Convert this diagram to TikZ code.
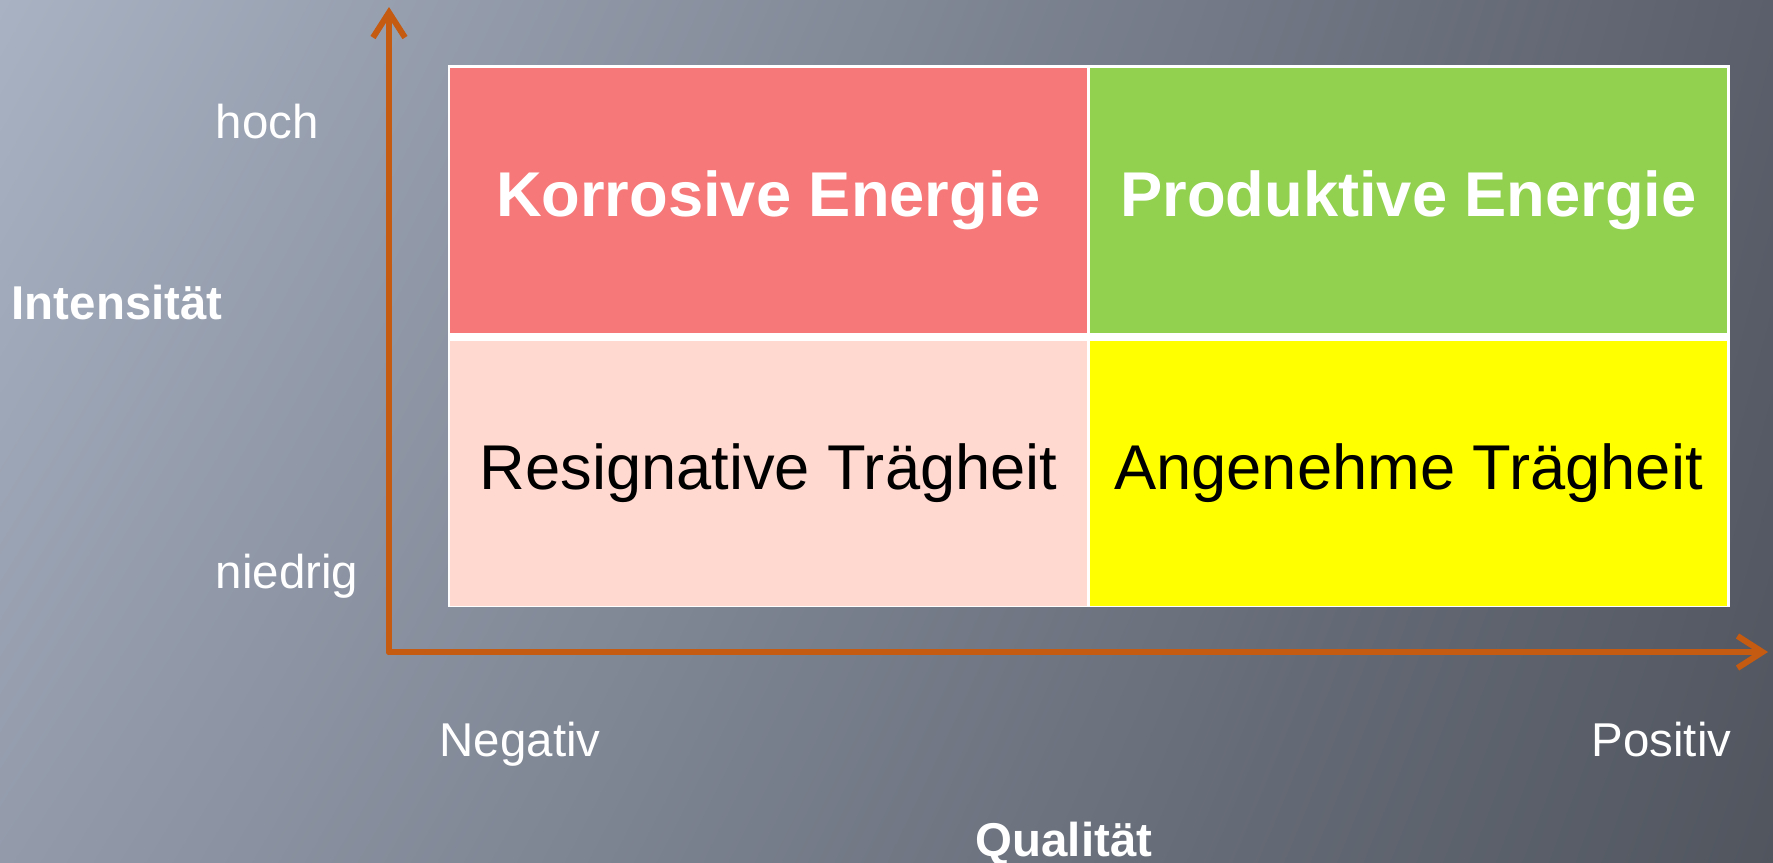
\documentclass[tikz,border=0pt]{standalone}
\usepackage{fontspec}
\setmainfont{Liberation Sans}
\usetikzlibrary{positioning,arrows.meta,shadings}

\definecolor{bgtl}{HTML}{A8B2C2}
\definecolor{bgtr}{HTML}{5B5F6B}
\definecolor{bgbl}{HTML}{939BAB}
\definecolor{bgbr}{HTML}{50555E}
\definecolor{achse}{HTML}{C55A11}
\definecolor{korrot}{HTML}{F67878}
\definecolor{prodgruen}{HTML}{92D050}
\definecolor{resrosa}{HTML}{FFD9CF}
\definecolor{anggelb}{HTML}{FFFF00}

\newcommand{\cellfont}{\fontsize{18}{21}\selectfont}
\newcommand{\labelfont}{\fontsize{13.5}{16}\selectfont}

\tikzset{
    cell/.style={minimum width=6.37cm, minimum height=2.65cm, inner sep=0pt, outer sep=0pt},
    axis/.style={achse, line width=1.7pt, line cap=round, -{Straight Barb[length=0.25cm, width=0.32cm]}},
    axislabel/.style={white, inner sep=0pt, font=\labelfont}
}

\begin{document}
\begin{tikzpicture}
    % Background
    \shade[upper left=bgtl, upper right=bgtr, lower left=bgbl, lower right=bgbr] (0,0) rectangle (17.73,8.62);
    \useasboundingbox (0,0) rectangle (17.73,8.62);

    % Quadrants
    \fill[white] (4.48,7.97) rectangle (17.30,2.55);
    \node[cell, fill=korrot, text=white, font=\bfseries\cellfont] (kor) at (7.685,6.615) {Korrosive Energie};
    \node[cell, fill=prodgruen, text=white, font=\bfseries\cellfont, right=0.03cm of kor] (prod) {Produktive Energie};
    \node[cell, fill=resrosa, font=\cellfont, below=0.08cm of kor] (res) {Resignative Trägheit};
    \node[cell, fill=anggelb, font=\cellfont, below=0.08cm of prod] (ang) {Angenehme Trägheit};

    % Axes
    \coordinate (origin) at (3.89,2.10);
    \coordinate (ytip) at (3.89,8.55);
    \coordinate (xtip) at (17.68,2.10);
    \draw[axis] (origin) -- (ytip);
    \draw[axis] (origin) -- (xtip);

    % Axis labels
    \node[axislabel, anchor=west] (hoch) at (2.15,7.40) {hoch};
    \node[axislabel, anchor=west] (niedrig) at (2.15,2.86) {niedrig};
    \node[axislabel, anchor=west, font=\bfseries\labelfont] (intens) at (0.11,5.59) {Intensität};
    \node[axislabel, anchor=base west] (neg) at (4.39,1.06) {Negativ};
    \node[axislabel, anchor=base east] (pos) at (17.32,1.06) {Positiv};
    \node[axislabel, anchor=base, font=\bfseries\labelfont] (qual) at (10.64,0.06) {Qualität};
\end{tikzpicture}
\end{document}
